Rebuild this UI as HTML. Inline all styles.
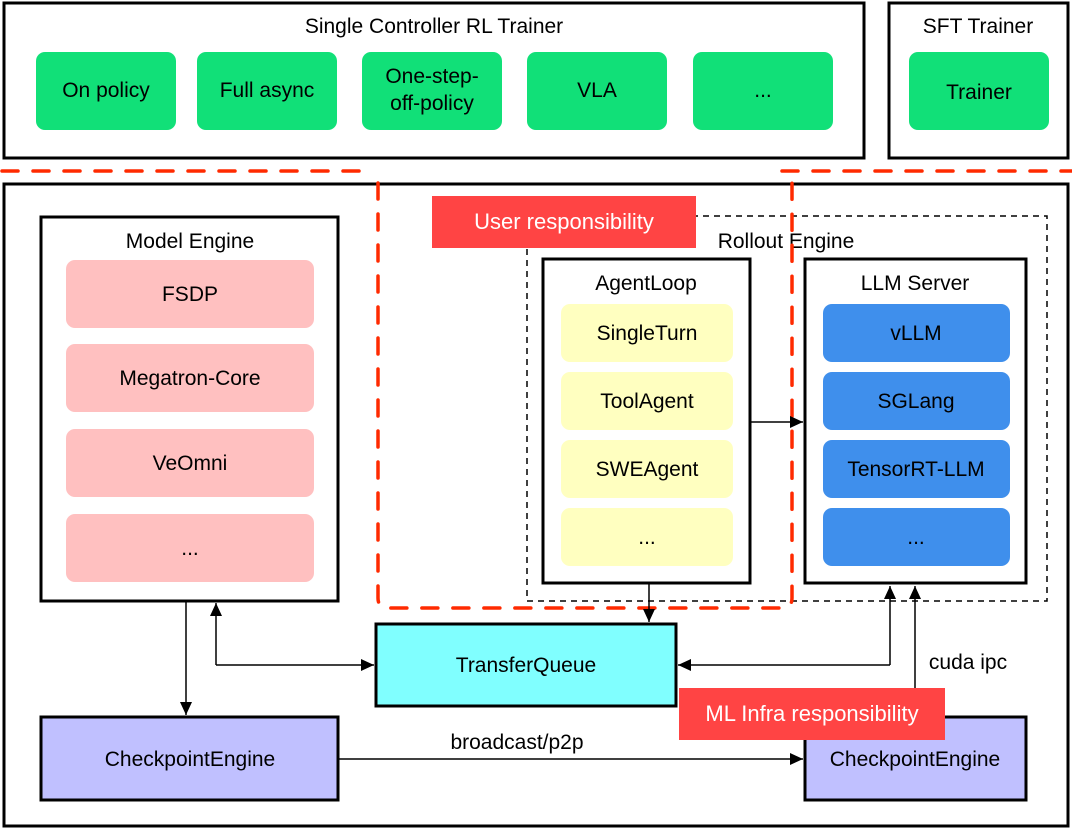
<!DOCTYPE html>
<html><head><style>body{margin:0;background:#fff}svg{display:block}text{font-family:"Liberation Sans",Arial,sans-serif}</style></head>
<body>
<svg width="1072" height="830" viewBox="0 0 1072 830">
<defs><marker id="a" markerWidth="14" markerHeight="14" refX="13" refY="6" orient="auto" markerUnits="userSpaceOnUse"><path d="M0,0 L13,6 L0,12 Z" fill="#000"/></marker></defs>
<g font-size="21" text-anchor="middle" fill="#000">
<rect x="4" y="3" width="860" height="155" fill="#fff" stroke="#000" stroke-width="3"/>
<text x="434" y="33">Single Controller RL Trainer</text>
<g fill="#11e078"><rect x="36" y="52" width="140" height="78" rx="9"/><rect x="197" y="52" width="140" height="78" rx="9"/><rect x="362" y="52" width="140" height="78" rx="9"/><rect x="527" y="52" width="140" height="78" rx="9"/><rect x="693" y="52" width="140" height="78" rx="9"/><rect x="909" y="52" width="140" height="78" rx="9"/></g>
<text x="106" y="97">On policy</text><text x="267" y="97">Full async</text><text x="432" y="83">One-step-</text><text x="432" y="110">off-policy</text><text x="597" y="97">VLA</text><text x="763" y="97">...</text>
<rect x="889" y="3" width="179" height="155" fill="none" stroke="#000" stroke-width="3"/>
<text x="978" y="33">SFT Trainer</text><text x="979" y="99">Trainer</text>
<rect x="4" y="184" width="1064" height="642" fill="none" stroke="#000" stroke-width="3"/>
<rect x="41" y="217" width="297" height="384" fill="none" stroke="#000" stroke-width="3"/>
<text x="190" y="248">Model Engine</text>
<g fill="#ffc0c0"><rect x="66" y="260" width="248" height="68" rx="9"/><rect x="66" y="344" width="248" height="68" rx="9"/><rect x="66" y="429" width="248" height="68" rx="9"/><rect x="66" y="514" width="248" height="68" rx="9"/></g>
<text x="190" y="301">FSDP</text><text x="190" y="385">Megatron-Core</text><text x="190" y="470">VeOmni</text><text x="190" y="555">...</text>
<rect x="527" y="216" width="520" height="385" fill="none" stroke="#000" stroke-width="1.5" stroke-dasharray="6,5"/>
<text x="786" y="248">Rollout Engine</text>
<rect x="543" y="259" width="207" height="324" fill="#fff" stroke="#000" stroke-width="3"/>
<text x="646" y="290">AgentLoop</text>
<g fill="#ffffc0"><rect x="561" y="304" width="172" height="58" rx="9"/><rect x="561" y="372" width="172" height="58" rx="9"/><rect x="561" y="440" width="172" height="58" rx="9"/><rect x="561" y="508" width="172" height="58" rx="9"/></g>
<text x="647" y="340">SingleTurn</text><text x="647" y="408">ToolAgent</text><text x="647" y="476">SWEAgent</text><text x="647" y="544">...</text>
<rect x="805" y="259" width="221" height="324" fill="#fff" stroke="#000" stroke-width="3"/>
<text x="915" y="290">LLM Server</text>
<g fill="#3f8fec"><rect x="823" y="304" width="187" height="58" rx="9"/><rect x="823" y="372" width="187" height="58" rx="9"/><rect x="823" y="440" width="187" height="58" rx="9"/><rect x="823" y="508" width="187" height="58" rx="9"/></g>
<text x="916" y="340">vLLM</text><text x="916" y="408">SGLang</text><text x="916" y="476">TensorRT-LLM</text><text x="916" y="544">...</text>
<path d="M2,171 H362 M378,183 V598 Q378,608 388,608 H782 Q792,608 792,598 V183 M782,171 H1072" fill="none" stroke="#ff2a00" stroke-width="3.5" stroke-linecap="round" stroke-dasharray="16,15"/>
<rect x="432" y="196" width="264" height="52" fill="#ff4444"/>
<text x="564" y="229" fill="#fff" font-size="22">User responsibility</text>
<rect x="376" y="624" width="300" height="82" fill="#80ffff" stroke="#000" stroke-width="3"/>
<text x="526" y="672">TransferQueue</text>
<rect x="41" y="717" width="297" height="83" fill="#c0c0ff" stroke="#000" stroke-width="3"/>
<text x="190" y="766">CheckpointEngine</text>
<rect x="805" y="717" width="221" height="83" fill="#c0c0ff" stroke="#000" stroke-width="3"/>
<text x="915" y="766">CheckpointEngine</text>
<g stroke="#000" stroke-width="1.5" fill="none">
<path d="M750,422 H803" marker-end="url(#a)"/>
<path d="M649,583 V622" marker-end="url(#a)"/>
<path d="M186,601 V715" marker-end="url(#a)"/>
<path d="M216,665 V603" marker-end="url(#a)"/>
<path d="M216,665 H374" marker-end="url(#a)"/>
<path d="M890,665 H678" marker-end="url(#a)"/>
<path d="M890,665 V586" marker-end="url(#a)"/>
<path d="M915,690 V586" marker-end="url(#a)"/>
<path d="M338,759 H803" marker-end="url(#a)"/>
</g>
<text x="968" y="669">cuda ipc</text>
<text x="517" y="749">broadcast/p2p</text>
<rect x="679" y="688" width="266" height="52" fill="#ff4444"/>
<text x="812" y="721" fill="#fff" font-size="22">ML Infra responsibility</text>
</g>
</svg>
</body></html>
